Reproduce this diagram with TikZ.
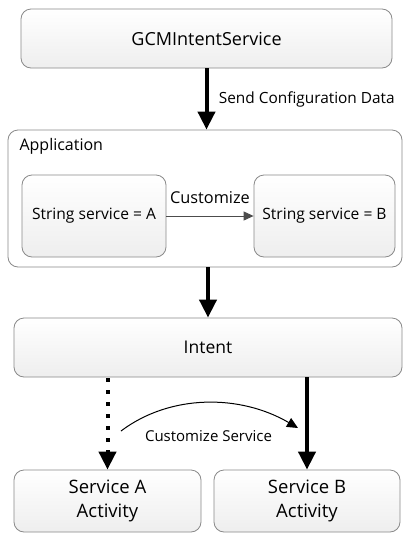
\documentclass[tikz,border=0pt]{standalone}
\usepackage{fontspec}
\setmainfont{Open Sans}
\usetikzlibrary{arrows.meta}
\definecolor{boxline}{HTML}{8A8A8A}
\definecolor{boxbot}{HTML}{EEEEEE}
\tikzset{
  panel/.style={draw=boxline, line width=0.8pt, rounded corners=10pt,
    top color=white, bottom color=boxbot, inner sep=0pt, align=center},
  frame/.style={draw=boxline, line width=0.8pt, rounded corners=10pt, fill=white, inner sep=0pt},
  bigflow/.style={line width=4pt, -{Triangle[width=17pt,length=18pt]}},
  dotflow/.style={line width=4pt, dash pattern=on 4pt off 8pt, -{Triangle[width=17pt,length=18pt]}},
  thinflow/.style={draw=black!70, line width=1pt, -{Triangle[width=9pt,length=10pt]}},
}
\begin{document}
\begin{tikzpicture}[x=1pt,y=-1pt]
\useasboundingbox (0,0) rectangle (403,536);
\fill[white] (0,0) rectangle (403,536);

% top service
\node[panel, minimum width=371pt, minimum height=59pt, font=\fontsize{18}{21}\selectfont]
  (gcm) at (206.5,38.5) {GCMIntentService};

% application container
\node[frame, minimum width=394pt, minimum height=137pt] (app) at (205,198.5) {};
\node[anchor=west, font=\fontsize{16}{19}\selectfont] (applbl) at (16,146) {Application};

\node[panel, minimum width=144pt, minimum height=82pt, font=\fontsize{15.6}{18}\selectfont]
  (sa) at (94,216) {String service = A};
\node[panel, minimum width=141pt, minimum height=82pt, font=\fontsize{15.6}{18}\selectfont]
  (sb) at (324.5,216) {String service = B};
\draw[thinflow] (sa.east) -- node[above=9pt, font=\fontsize{16.3}{19}\selectfont, text=black] (custlbl) {Customize} (sb.west);

% intent
\node[panel, minimum width=388pt, minimum height=59pt, font=\fontsize{17.5}{21}\selectfont]
  (intent) at (208,347.5) {Intent};

% activities
\node[panel, minimum width=187pt, minimum height=62pt, font=\fontsize{18.5}{24}\selectfont]
  (acta) at (107.5,501) {Service A\\Activity};
\node[panel, minimum width=186pt, minimum height=62pt, font=\fontsize{18.5}{24}\selectfont]
  (actb) at (307,501) {Service B\\Activity};

% flows
\draw[bigflow] (gcm.south) -- node[right=7pt, font=\fontsize{15.4}{18}\selectfont] (sendlbl) {Send Configuration Data} (app.north -| gcm.south);
\draw[bigflow] (app.south -| intent.north) -- (intent.north);
\draw[dotflow] (intent.south -| acta.north) ++(0,1) -- (acta.north);
\draw[bigflow] (intent.south -| actb.north) -- (actb.north);

% customization curve
\coordinate (cs) at (121,431);
\coordinate (ce) at (298,428);
\draw[line width=1pt, -{Triangle[width=10pt,length=11pt]}] (cs) .. controls (170,394) and (240,394) .. (ce);
\node[font=\fontsize{15}{18}\selectfont] (cslbl) at (208.5,436.5) {Customize Service};
\end{tikzpicture}
\end{document}
